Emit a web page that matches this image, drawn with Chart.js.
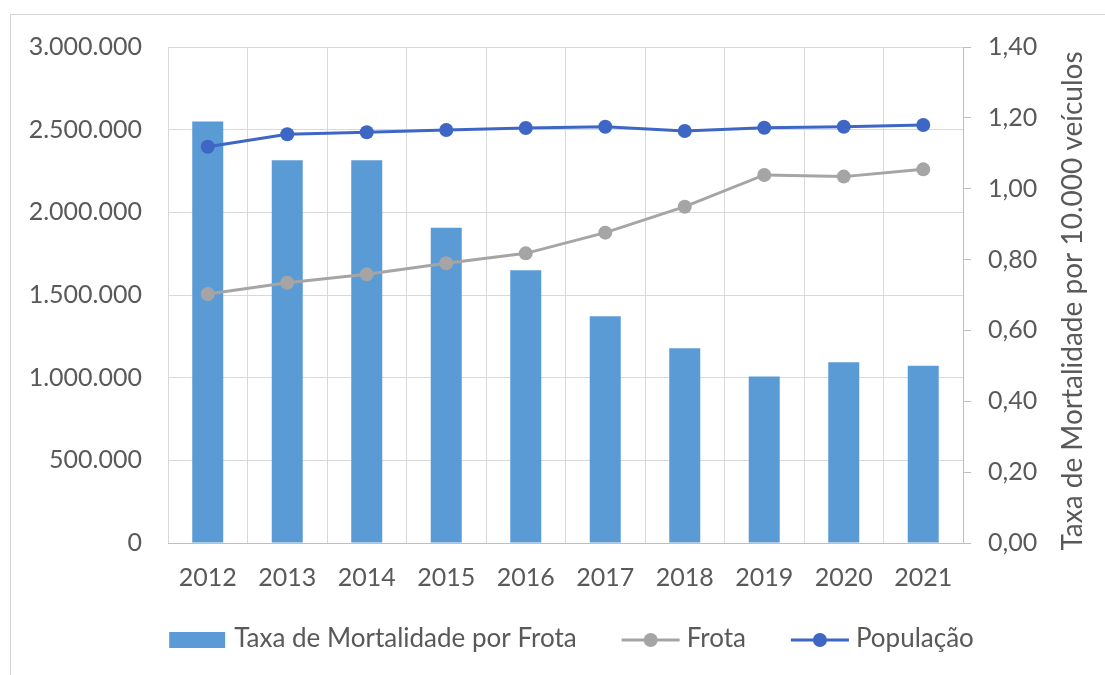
<!DOCTYPE html>
<html><head><meta charset="utf-8">
<script src="https://cdn.jsdelivr.net/npm/chart.js@4"></script>
<style>
html,body{margin:0;padding:0;background:#fff;}
#wrap{position:relative;width:1105px;height:675px;overflow:hidden;background:#fff;}
#frame{position:absolute;left:10px;top:14px;width:1200px;height:800px;border-top:1px solid #D4D4D4;border-left:1px solid #D4D4D4;}
canvas{position:absolute;left:0;top:0;}
</style></head><body>
<div id="wrap"><div id="frame"></div><canvas id="c" width="1105" height="675"></canvas></div>
<script>
const categories = ['2012','2013','2014','2015','2016','2017','2018','2019','2020','2021'];
const taxaMortalidade = [1.19, 1.08, 1.08, 0.89, 0.77, 0.64, 0.55, 0.47, 0.51, 0.50];
const frota = [1506000, 1574000, 1625000, 1692000, 1752000, 1877000, 2034000, 2226000, 2216000, 2260000];
const populacao = [2397000, 2472000, 2484000, 2498000, 2510000, 2518000, 2492000, 2512000, 2518000, 2528000];
const seriesNames = ['Taxa de Mortalidade por Frota', 'Frota', 'População'];
const rightAxisTitle = 'Taxa de Mortalidade por 10.000 veículos';
const leftAxisRange = [0, 3000000, 500000];
const rightAxisRange = [0, 1.4, 0.2];

const FONT = 'Lato';
const TXT = '#595959';
const C_BAR = '#5B9BD5';
const C_FROTA = '#A5A5A5';
const C_POP = '#3E66C5';

function fmtThousands(v){ return String(Math.round(v)).replace(/\B(?=(\d{3})+(?!\d))/g,'.'); }
function fmtComma(v){ return v.toFixed(2).replace('.',','); }

const titlePlugin = {
  id:'rightTitle',
  afterDraw(chart){
    const ctx = chart.ctx, a = chart.chartArea;
    ctx.save();
    ctx.translate(1073, (a.top+a.bottom)/2 + 6);
    ctx.rotate(-Math.PI/2);
    ctx.font = '28px ' + FONT;
    ctx.fillStyle = TXT;
    ctx.textAlign = 'center';
    ctx.textBaseline = 'middle';
    ctx.fillText(rightAxisTitle, 0, 0);
    ctx.restore();
  }
};

const legendPlugin = {
  id:'customLegend',
  afterDraw(chart){
    const ctx = chart.ctx, a = chart.chartArea;
    const y = 640, symW = 58, gap = 7, spacing = 45;
    ctx.save();
    ctx.font = '26px ' + FONT;
    const items = chart.data.datasets.map(ds => ({ds, w: ctx.measureText(ds.label).width}));
    let total = items.reduce((s,it)=>s+symW+gap+it.w,0) + spacing*(items.length-1);
    let x = (a.left+a.right)/2 + 6 - total/2;
    items.forEach(it => {
      const ds = it.ds;
      if (ds.type === 'bar') {
        ctx.fillStyle = ds.backgroundColor;
        ctx.fillRect(x, y-8, symW-2, 16);
      } else {
        ctx.strokeStyle = ds.borderColor;
        ctx.lineWidth = 3;
        ctx.beginPath(); ctx.moveTo(x, y); ctx.lineTo(x+symW, y); ctx.stroke();
        ctx.fillStyle = ds.pointBackgroundColor;
        ctx.beginPath(); ctx.arc(x+symW/2, y, 7, 0, Math.PI*2); ctx.fill();
      }
      ctx.fillStyle = TXT;
      ctx.textAlign = 'left';
      ctx.textBaseline = 'middle';
      ctx.fillText(ds.label, x+symW+gap, y-1);
      x += symW + gap + it.w + spacing;
    });
    ctx.restore();
  }
};

new Chart(document.getElementById('c'), {
  data: {
    labels: categories,
    datasets: [
      { type:'bar', label: seriesNames[0], data: taxaMortalidade, yAxisID:'y1',
        backgroundColor: C_BAR, barPercentage: 0.39, categoryPercentage: 1, order: 3 },
      { type:'line', label: seriesNames[1], data: frota, yAxisID:'y',
        borderColor: C_FROTA, backgroundColor: C_FROTA, pointBackgroundColor: C_FROTA, pointBorderColor: C_FROTA,
        borderWidth: 3, pointRadius: 7, pointBorderWidth: 0, tension: 0, order: 2 },
      { type:'line', label: seriesNames[2], data: populacao, yAxisID:'y',
        borderColor: C_POP, backgroundColor: C_POP, pointBackgroundColor: C_POP, pointBorderColor: C_POP,
        borderWidth: 3, pointRadius: 7, pointBorderWidth: 0, tension: 0, order: 1 }
    ]
  },
  options: {
    responsive: false,
    animation: false,
    devicePixelRatio: 1,
    layout: { padding: { top: 47, left: 28, right: 67, bottom: 80 } },
    plugins: { legend: { display: false }, tooltip: { enabled: false } },
    scales: {
      x: {
        offset: true,
        grid: { offset: true, color: '#D9D9D9', drawTicks: false },
        border: { color: '#BFBFBF' },
        ticks: { font: { family: FONT, size: 25 }, color: TXT, padding: 20 },
        afterFit(s){ s.height = 52; }
      },
      y: {
        position: 'left',
        min: leftAxisRange[0], max: leftAxisRange[1],
        ticks: { stepSize: leftAxisRange[2], callback: v => fmtThousands(v), font: { family: FONT, size: 25 }, color: TXT, padding: 26 },
        grid: { color: '#D9D9D9', drawTicks: false },
        border: { display: false },
        afterFit(s){ s.width = 140; }
      },
      y1: {
        position: 'right',
        min: rightAxisRange[0], max: rightAxisRange[1],
        ticks: { stepSize: rightAxisRange[2], callback: v => fmtComma(v), font: { family: FONT, size: 25 }, color: TXT, padding: 17 },
        grid: { drawOnChartArea: false, drawTicks: true, tickLength: 8, color: '#BFBFBF' },
        border: { color: '#BFBFBF' },
        afterFit(s){ s.width = 75; }
      }
    }
  },
  plugins: [titlePlugin, legendPlugin]
});
</script>
</body></html>
